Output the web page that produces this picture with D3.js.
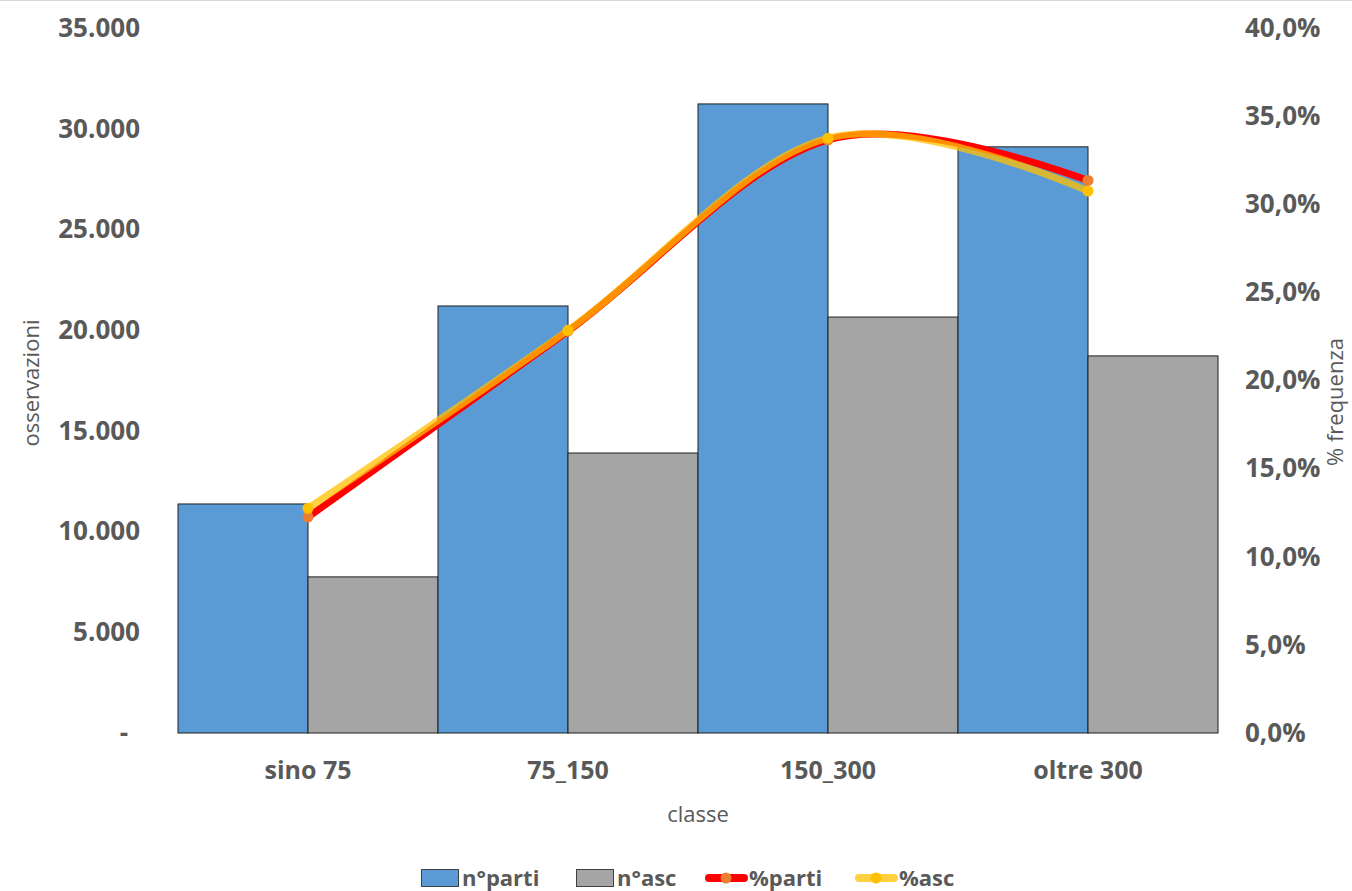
<!DOCTYPE html>
<html>
<head>
<meta charset="utf-8">
<script src="https://cdn.jsdelivr.net/npm/d3@7"></script>
<style>
  body { margin: 0; background: #fff; }
  text { font-family: "Open Sans", sans-serif; fill: #595959; }
</style>
</head>
<body>
<svg id="chart" width="1352" height="891"></svg>
<script>
// values
const categories = ["sino 75", "75_150", "150_300", "oltre 300"];
const nParti = [11370, 21200, 31230, 29100];
const nAsc = [7750, 13900, 20650, 18720];
const pctParti = [0.1225, 0.228, 0.3365, 0.3135];
const pctAsc = [0.1275, 0.2285, 0.3375, 0.3075];
const leftTicks = [0, 5000, 10000, 15000, 20000, 25000, 30000, 35000];
const rightTicks = [0, 0.05, 0.1, 0.15, 0.2, 0.25, 0.3, 0.35, 0.4];

const margins = { top: 28, right: 134, bottom: 158, left: 178 };
const totalWidth = 1352;
const totalHeight = 891;
const innerWidth = totalWidth - margins.left - margins.right;
const innerHeight = totalHeight - margins.top - margins.bottom;

const locale = d3.formatLocale({ decimal: ",", thousands: ".", grouping: [3], currency: ["€", ""] });
const fmtNum = locale.format(",.0f");
const fmtPct = locale.format(".1%");

const svg = d3.select("#chart");

// thin border line at the top of the chart
svg.append("line")
    .attr("x1", 0).attr("x2", totalWidth)
    .attr("y1", 0.5).attr("y2", 0.5)
    .attr("stroke", "#d9d9d9");

const chart = svg.append("g").attr("transform", `translate(${margins.left},${margins.top})`);

const xscale = d3.scaleBand(categories, [0, innerWidth]).padding(0);
const series = ["parti", "asc"];
const xsub = d3.scaleBand(series, [0, xscale.bandwidth()]).padding(0);
const yscale = d3.scaleLinear([0, 35000], [innerHeight, 0]);
const pscale = d3.scaleLinear([0, 0.4], [innerHeight, 0]);

// bars
const barData = [];
categories.forEach((c, i) => {
    barData.push({ cat: c, key: "parti", v: nParti[i], fill: "#5b9bd5" });
    barData.push({ cat: c, key: "asc", v: nAsc[i], fill: "#a5a5a5" });
});
chart.selectAll(".bars").data(barData).enter()
    .append("rect")
    .attr("class", "bars")
    .attr("x", d => xscale(d.cat) + xsub(d.key))
    .attr("y", d => yscale(d.v))
    .attr("width", xsub.bandwidth())
    .attr("height", d => innerHeight - yscale(d.v))
    .attr("fill", d => d.fill)
    .attr("stroke", "#1f1f1f")
    .attr("stroke-width", 1);

// axes
function styleAxis(g, size) {
    g.attr("font-size", size).attr("font-family", "Open Sans").attr("font-weight", "bold");
    g.select(".domain").remove();
    g.selectAll("text").attr("fill", "#595959");
}

const yaxis = d3.axisLeft(yscale).tickValues(leftTicks).tickSize(0).tickPadding(38)
    .tickFormat(d => d === 0 ? "-" : fmtNum(d));
const gy = chart.append("g").call(yaxis);
styleAxis(gy, 26);
gy.selectAll("text").attr("x", d => d === 0 ? -50 : -38);

const raxis = d3.axisRight(pscale).tickValues(rightTicks).tickSize(0).tickPadding(27)
    .tickFormat(fmtPct);
const gr = chart.append("g").attr("transform", `translate(${innerWidth},0)`).call(raxis);
styleAxis(gr, 26);

const xaxis = d3.axisBottom(xscale).tickSize(0).tickPadding(28);
const gx = chart.append("g").attr("transform", `translate(0,${innerHeight})`).call(xaxis);
styleAxis(gx, 25);

// axis titles
svg.append("text").attr("transform", "translate(39,383) rotate(-90)")
    .attr("text-anchor", "middle").attr("font-size", 22).text("osservazioni");
svg.append("text").attr("transform", "translate(1343,402) rotate(-90)")
    .attr("text-anchor", "middle").attr("font-size", 22).text("% frequenza");
svg.append("text").attr("x", 698).attr("y", 822)
    .attr("text-anchor", "middle").attr("font-size", 22).text("classe");

// smoothed percentage lines
const cx = c => xscale(c) + xscale.bandwidth() / 2;
const line = d3.line().x(d => cx(d.cat)).y(d => pscale(d.v)).curve(d3.curveCardinal.tension(0));

const lines = [
    { name: "%parti", vals: pctParti, stroke: "#ff0000", op: 1, marker: "#ed7d31" },
    { name: "%asc", vals: pctAsc, stroke: "#ffc000", op: 0.75, marker: "#ffc000" }
];
lines.forEach(s => {
    const pts = categories.map((c, i) => ({ cat: c, v: s.vals[i] }));
    chart.append("path").datum(pts)
        .attr("d", line)
        .attr("fill", "none")
        .attr("stroke", s.stroke)
        .attr("stroke-opacity", s.op)
        .attr("stroke-width", 7)
        .attr("stroke-linecap", "round");
    chart.selectAll(".pt-" + s.name.slice(1)).data(pts).enter()
        .append("circle")
        .attr("cx", d => cx(d.cat))
        .attr("cy", d => pscale(d.v))
        .attr("r", 5.5)
        .attr("fill", s.marker);
});

// legend
const legend = svg.append("g").attr("transform", "translate(0,878)");
const legItems = [
    { x: 421, type: "box", fill: "#5b9bd5", label: "n°parti" },
    { x: 576, type: "box", fill: "#a5a5a5", label: "n°asc" },
    { x: 705, type: "line", stroke: "#ff0000", op: 1, marker: "#ed7d31", label: "%parti" },
    { x: 855, type: "line", stroke: "#ffc000", op: 0.75, marker: "#ffc000", label: "%asc" }
];
legItems.forEach(d => {
    const g = legend.append("g");
    let tx;
    if (d.type === "box") {
        g.append("rect").attr("x", d.x + 0.5).attr("y", -8.5).attr("width", 37).attr("height", 17)
            .attr("fill", d.fill).attr("stroke", "#404040");
        tx = d.x + 41;
    } else {
        g.append("line").attr("x1", d.x + 4).attr("x2", d.x + 39).attr("y1", 0).attr("y2", 0)
            .attr("stroke", d.stroke).attr("stroke-opacity", d.op)
            .attr("stroke-width", 8).attr("stroke-linecap", "round");
        g.append("circle").attr("cx", d.x + 21).attr("cy", 0).attr("r", 5.5).attr("fill", d.marker);
        tx = d.x + 44;
    }
    g.append("text").attr("x", tx).attr("y", 0).attr("dy", "0.36em")
        .attr("font-size", 22).attr("font-weight", "bold").text(d.label);
});
</script>
</body>
</html>
